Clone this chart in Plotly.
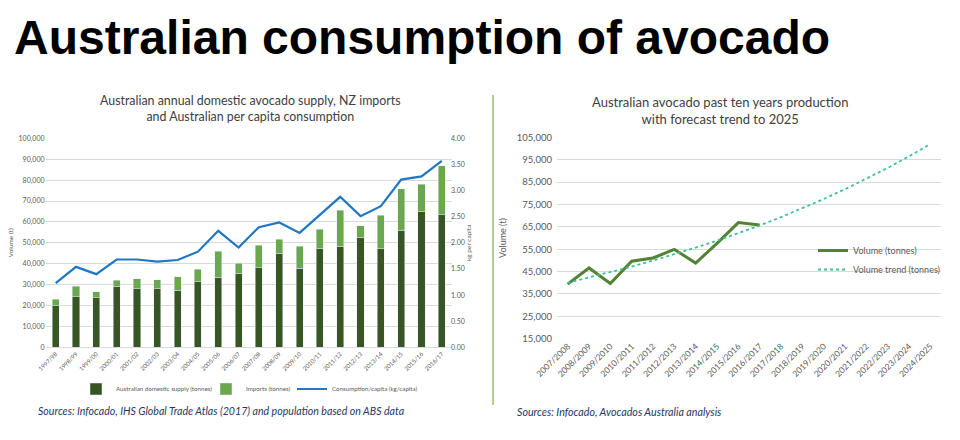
import plotly.graph_objects as go

# ---------------- data ----------------
seasons_left = ["1997/98", "1998/99", "1999/00", "2000/01", "2001/02", "2002/03", "2003/04",
                "2004/05", "2005/06", "2006/07", "2007/08", "2008/09", "2009/10", "2010/11",
                "2011/12", "2012/13", "2013/14", "2014/15", "2015/16", "2016/17"]
domestic_supply = [20000, 24200, 23800, 29300, 28100, 28100, 27400, 31300, 33500, 35100,
                   38100, 45000, 37800, 47500, 48300, 52600, 47200, 56100, 65200, 63500]
imports = [3000, 5100, 2800, 2900, 4600, 4300, 6300, 6000, 12400, 5100,
           10700, 6800, 10500, 9000, 17300, 5500, 16000, 19700, 12900, 23400]
per_capita = [1.23, 1.54, 1.40, 1.68, 1.68, 1.64, 1.67, 1.83, 2.23, 1.91,
              2.30, 2.39, 2.19, 2.53, 2.88, 2.51, 2.70, 3.21, 3.27, 3.57]

seasons_right = ["2007/2008", "2008/2009", "2009/2010", "2010/2011", "2011/2012", "2012/2013",
                 "2013/2014", "2014/2015", "2015/2016", "2016/2017", "2017/2018", "2018/2019",
                 "2019/2020", "2020/2021", "2021/2022", "2022/2023", "2023/2024", "2024/2025"]
volume = [39400, 46600, 39700, 49600, 51100, 54900, 48800, 57600, 66900, 65800]
volume_trend = [40000, 42300, 44700, 47200, 49900, 52700, 55700, 58800, 62100, 65600,
                69300, 73200, 77400, 81800, 86400, 91300, 96500, 102000]

W, H = 960, 440
def px(x):
    return x / W
def py(y):
    return 1 - y / H

FONT = "Lato"
TICK_COL = "#595959"
GRID = "#d9d9d9"

fig = go.Figure()

fig.add_trace(go.Bar(x=seasons_left, y=domestic_supply, name="Australian domestic supply (tonnes)",
                     marker_color="#375623", xaxis="x", yaxis="y", legend="legend",
                     showlegend=True))
fig.add_trace(go.Bar(x=seasons_left, y=imports, name="Imports (tonnes)",
                     marker_color="#6aa84f", xaxis="x", yaxis="y", legend="legend3",
                     showlegend=True))
fig.add_trace(go.Scatter(x=seasons_left, y=per_capita, name="Consumption/capita (kg/capita)",
                         mode="lines", line=dict(color="#1f78c1", width=2.2),
                         xaxis="x", yaxis="y2", legend="legend4", showlegend=True))

fig.add_trace(go.Scatter(x=seasons_right[:len(volume)], y=volume, name="Volume (tonnes)",
                         mode="lines", line=dict(color="#548235", width=3),
                         xaxis="x2", yaxis="y3", legend="legend2", showlegend=True))
fig.add_trace(go.Scatter(x=seasons_right, y=volume_trend, name="Volume trend (tonnes)",
                         mode="lines", line=dict(color="#3cbf9b", width=1.8, dash="dot"),
                         xaxis="x2", yaxis="y3", legend="legend2", showlegend=True))

small_legend = dict(orientation="h", yanchor="middle", y=py(389),
                    font=dict(size=6.2, color=TICK_COL), bgcolor="rgba(0,0,0,0)",
                    itemwidth=30, xanchor="left")

fig.update_layout(
    width=W, height=H,
    showlegend=True,
    margin=dict(l=0, r=0, t=0, b=0, autoexpand=False),
    paper_bgcolor="white", plot_bgcolor="white",
    font=dict(family=FONT, color=TICK_COL),
    barmode="stack", bargap=0.65,
    xaxis=dict(domain=[px(45.5), px(452)], type="category", tickangle=-45,
               categoryorder="array", categoryarray=seasons_left, range=[-0.5, 19.5],
               tickfont=dict(size=6, color=TICK_COL), showgrid=False, automargin=False,
               showline=True, linecolor=GRID, ticks="", anchor="y"),
    yaxis=dict(domain=[py(347.3), py(138.3)], range=[0, 100000], dtick=10000,
               tickformat=",", tickfont=dict(size=7, color=TICK_COL), automargin=False,
               gridcolor=GRID, gridwidth=1, zeroline=False, showline=False, anchor="x",
               ticks="",
               title=dict(text="Volume (t)", font=dict(size=6.5, color=TICK_COL), standoff=4)),
    yaxis2=dict(overlaying="y", side="right", anchor="free", position=px(450),
                range=[0, 4], dtick=0.5, ticks="",
                tickformat=".2f", tickfont=dict(size=7, color=TICK_COL), showgrid=False,
                zeroline=False, automargin=False, showline=False,
                title=dict(text="kg per capita", font=dict(size=6.5, color=TICK_COL), standoff=2)),
    xaxis2=dict(domain=[px(557), px(941)], type="category", tickangle=-45,
                categoryorder="array", categoryarray=seasons_right, range=[-0.5, 17.5],
                tickfont=dict(size=8.5, color=TICK_COL), showgrid=False, automargin=False,
                showline=False, ticks="", anchor="y3"),
    yaxis3=dict(domain=[py(338.7), py(137.3)], range=[15000, 105000], dtick=10000,
                tick0=15000, tickformat=",", tickfont=dict(size=9.5, color=TICK_COL),
                gridcolor=GRID, gridwidth=1, zeroline=False, showline=False, anchor="x2",
                automargin=False, ticks="", ticklabelstandoff=4,
                title=dict(text="Volume (t)", font=dict(size=9, color=TICK_COL), standoff=8)),
    legend=dict(small_legend, x=px(76)),
    legend3=dict(small_legend, x=px(206)),
    legend4=dict(small_legend, x=px(292)),
    legend2=dict(orientation="v", x=px(813), xanchor="left", y=py(236), yanchor="top",
                 font=dict(size=9, color=TICK_COL), bgcolor="rgba(0,0,0,0)", itemwidth=30,
                 tracegroupgap=2),
)

def note(text, x, y, size, color, family=FONT, xanchor="left"):
    return dict(text=text, xref="paper", yref="paper", x=px(x), y=py(y), xanchor=xanchor,
                yanchor="middle", showarrow=False, font=dict(family=family, size=size, color=color))

annotations = [
    note("<b>Australian consumption of avocado</b>", 12, 37, 48, "#000000",
         family="Liberation Sans, Arial"),
    note("Australian annual domestic avocado supply, NZ imports<br>and Australian per capita consumption",
         250, 108, 12.4, "#404040", xanchor="center"),
    note("Australian avocado past ten years production<br>with forecast trend to 2025",
         720, 110, 13, "#404040", xanchor="center"),
    note("<i>Sources: Infocado, IHS Global Trade Atlas (2017) and population based on ABS data</i>",
         36, 411, 10.6, "#1f3864"),
    note("<i>Sources: Infocado, Avocados Australia analysis</i>",
         515, 411, 10.7, "#1f3864"),
]
fig.update_layout(annotations=annotations)

fig.add_shape(type="line", xref="paper", yref="paper", x0=px(493), x1=px(493),
              y0=py(405), y1=py(95), line=dict(color="#a9d18e", width=2))

fig.write_html("out.html", post_script="document.body.style.margin='0';",
               config={"displayModeBar": False})
